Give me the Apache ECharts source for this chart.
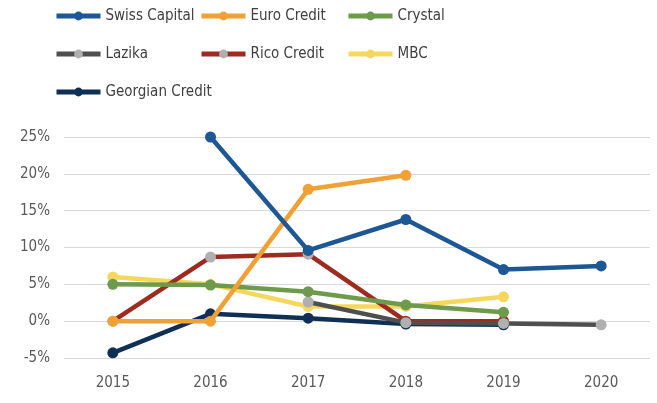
<!DOCTYPE html>
<html>
<head>
<meta charset="utf-8">
<script src="https://cdn.jsdelivr.net/npm/echarts@6/dist/echarts.min.js"></script>
<style>
  html, body { margin: 0; padding: 0; background: #fff; }
  #chart { width: 657px; height: 403px; }
</style>
</head>
<body>
<div id="chart"></div>
<script>
// years on the x axis
var years = ['2015', '2016', '2017', '2018', '2019', '2020'];
var yTicks = [-5, 0, 5, 10, 15, 20, 25];

// values in %, null = no point
var swissCapital   = [null, 25, 9.6, 13.8, 7.0, 7.5];
var euroCredit     = [0, 0, 17.9, 19.8, null, null];
var crystal        = [5.0, 4.9, 4.0, 2.2, 1.2, null];
var lazika         = [null, null, 2.6, -0.2, -0.3, -0.5];
var ricoCredit     = [0, 8.7, 9.1, 0, 0, null];
var mbc            = [6.0, 5.0, 2.0, 2.0, 3.3, null];
var georgianCredit = [-4.3, 1.0, 0.4, -0.4, -0.5, null];

var seriesNames = ['Swiss Capital', 'Euro Credit', 'Crystal', 'Lazika', 'Rico Credit', 'MBC', 'Georgian Credit'];
var seriesData = [swissCapital, euroCredit, crystal, lazika, ricoCredit, mbc, georgianCredit];
var lineColors = ['#1d5794', '#f0a035', '#6e9a4c', '#4f4f4f', '#9e2a20', '#f6d75e', '#0f2f55'];
var markerColors = ['#1d5794', '#f0a035', '#6e9a4c', '#b0b0b0', '#b0b0b0', '#f6d75e', '#0f2f55'];

// legend slots (3 columns x 3 rows)
var legendPos = [
    [49, 1], [194, 1], [341, 1],
    [49, 39], [194, 39], [341, 39],
    [49, 77]
];

const chartPage = {
    init: function () {
        this.render();
    },
    render: function () {
        var legends = seriesNames.map(function (name, i) {
            return {
                data: [name],
                left: legendPos[i][0],
                top: legendPos[i][1],
                itemWidth: 44,
                itemHeight: 11,
                itemGap: 0,
                lineStyle: { width: 5 },
                textStyle: {
                    fontFamily: 'Liberation Sans Narrow, DejaVu Sans Condensed, sans-serif',
                    fontSize: 15,
                    color: '#404040',
                    lineHeight: 20
                }
            };
        });

        var series = seriesNames.map(function (name, i) {
            return {
                name: name,
                type: 'line',
                data: seriesData[i],
                symbol: 'circle',
                symbolSize: 11,
                connectNulls: false,
                z: 10 - i,
                lineStyle: { color: lineColors[i], width: 4.5 },
                itemStyle: { color: markerColors[i], borderWidth: 0 }
            };
        });
        // Rico Credit: grey markers only for 2015-2017
        series[4].data = ricoCredit.map(function (v, k) {
            if (v === null) return null;
            return k > 2 ? { value: v, itemStyle: { color: lineColors[4] } } : v;
        });

        var option = {
            animation: false,
            color: lineColors,
            legend: legends,
            grid: {
                left: 64,
                right: 7,
                top: 137,
                bottom: 45
            },
            xAxis: {
                type: 'category',
                data: years,
                boundaryGap: true,
                axisLine: { show: false },
                axisTick: { show: false },
                axisLabel: {
                    margin: 18,
                    fontFamily: 'Liberation Sans Narrow, DejaVu Sans Condensed, sans-serif',
                    fontSize: 15,
                    color: '#595959'
                }
            },
            yAxis: {
                type: 'value',
                min: yTicks[0],
                max: yTicks[yTicks.length - 1],
                interval: 5,
                axisLine: { show: false },
                axisTick: { show: false },
                splitLine: { lineStyle: { color: '#d9d9d9', width: 1 } },
                axisLabel: {
                    margin: 14,
                    formatter: '{value}%',
                    fontFamily: 'Liberation Sans Narrow, DejaVu Sans Condensed, sans-serif',
                    fontSize: 15,
                    color: '#595959'
                }
            },
            series: series
        };
        var container = document.getElementById('chart');
        const myChart = echarts.init(container);
        myChart.clear();
        myChart.setOption(option);
    }
};

chartPage.init();
</script>
</body>
</html>
